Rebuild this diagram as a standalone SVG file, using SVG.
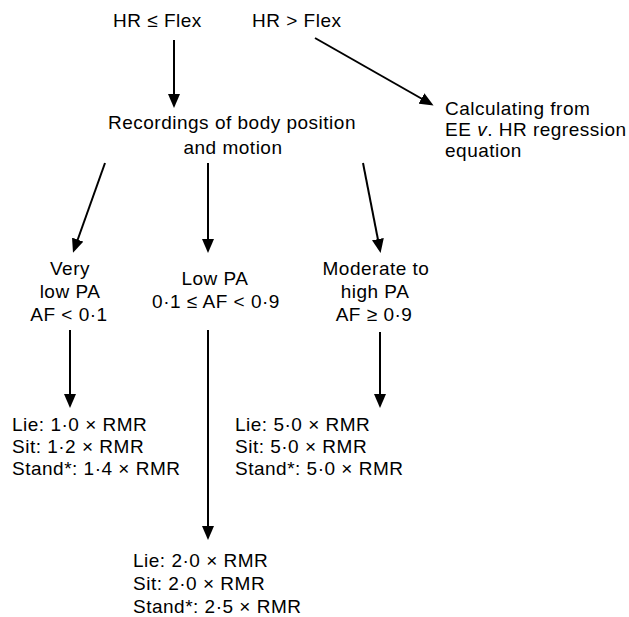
<svg xmlns="http://www.w3.org/2000/svg" width="629" height="617" viewBox="0 0 629 617">
<style>
text{font-family:"Liberation Sans",Arial,Helvetica,sans-serif;font-size:19px;fill:#000;letter-spacing:0.5px}
.c{text-anchor:middle}
.ln{stroke:#000;stroke-width:2;fill:none;marker-end:url(#ah)}
</style>
<defs>
<marker id="ah" markerUnits="userSpaceOnUse" markerWidth="14" markerHeight="12" refX="11" refY="6" orient="auto" viewBox="0 0 14 12">
<path d="M0,0 L14,6 L0,12 Z" fill="#000"/>
</marker>
</defs>
<rect width="629" height="617" fill="#fff"/>
<g id="connectors">
<line class="ln" x1="174" y1="40" x2="174" y2="105"/>
<line class="ln" x1="315" y1="38" x2="431" y2="104"/>
<line class="ln" x1="105" y1="163" x2="74" y2="250"/>
<line class="ln" x1="208" y1="163" x2="208" y2="250"/>
<line class="ln" x1="363" y1="163" x2="380" y2="250"/>
<line class="ln" x1="70" y1="330" x2="70" y2="405"/>
<line class="ln" x1="208" y1="330" x2="208" y2="537"/>
<line class="ln" x1="380" y1="332" x2="380" y2="405"/>
</g>
<g id="hr-le-flex"><text x="113" y="27">HR ≤ Flex</text></g>
<g id="hr-gt-flex"><text x="252" y="27">HR &gt; Flex</text></g>
<g id="calculating">
<text x="445" y="115">Calculating from</text>
<text x="445" y="136">EE <tspan font-style="italic">v</tspan>. HR regression</text>
<text x="445" y="157">equation</text>
</g>
<g id="recordings">
<text class="c" x="232" y="129">Recordings of body position</text>
<text class="c" x="233" y="154">and motion</text>
</g>
<g id="very-low-pa">
<text class="c" x="70" y="275">Very</text>
<text class="c" x="70" y="298">low PA</text>
<text class="c" x="69" y="321">AF &lt; 0·1</text>
</g>
<g id="low-pa">
<text class="c" x="215" y="285">Low PA</text>
<text class="c" x="216" y="308">0·1 ≤ AF &lt; 0·9</text>
</g>
<g id="moderate-high-pa">
<text class="c" x="376" y="275">Moderate to</text>
<text class="c" x="375" y="298">high PA</text>
<text class="c" x="374" y="321">AF ≥ 0·9</text>
</g>
<g id="very-low-values">
<text x="12" y="431">Lie: 1·0 × RMR</text>
<text x="12" y="453">Sit: 1·2 × RMR</text>
<text x="12" y="475">Stand*: 1·4 × RMR</text>
</g>
<g id="moderate-values">
<text x="235" y="431">Lie: 5·0 × RMR</text>
<text x="235" y="453">Sit: 5·0 × RMR</text>
<text x="235" y="475">Stand*: 5·0 × RMR</text>
</g>
<g id="low-values">
<text x="133" y="567">Lie: 2·0 × RMR</text>
<text x="133" y="590">Sit: 2·0 × RMR</text>
<text x="133" y="613">Stand*: 2·5 × RMR</text>
</g>
</svg>
